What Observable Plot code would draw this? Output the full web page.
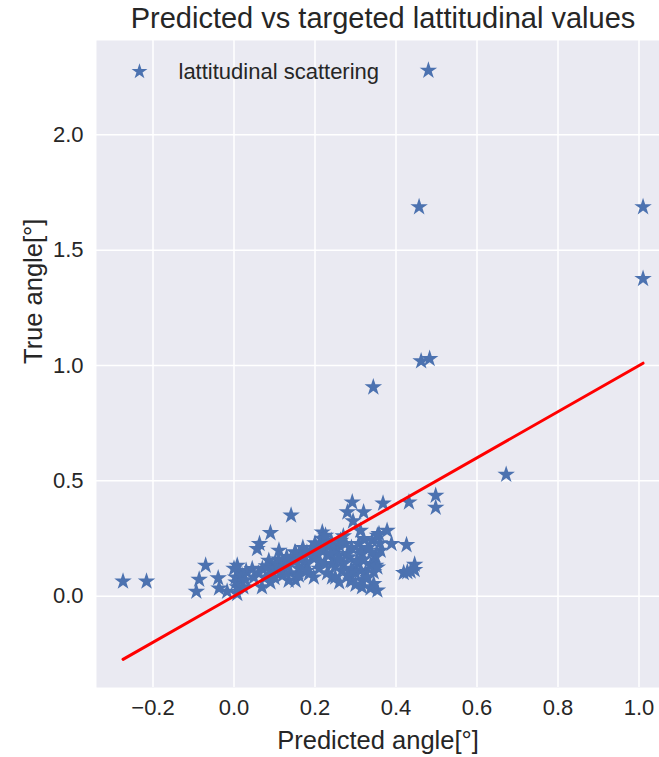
<!DOCTYPE html>
<html>
<head>
<meta charset="utf-8">
<script src="https://cdn.jsdelivr.net/npm/d3@7"></script>
<script src="https://cdn.jsdelivr.net/npm/@observablehq/plot@0.6"></script>
<style>
  html, body { margin: 0; padding: 0; background: #ffffff; }
  body { width: 659px; height: 757px; overflow: hidden; font-family: "Liberation Sans", Arial, sans-serif; }
  #title { position: relative; height: 40px; width: 659px; }
  #title span { position: absolute; left: 0; width: 766px; top: 1px; line-height: 34px; text-align: center; font-size: 29px; color: #262626; white-space: nowrap; }
  #chart svg { display: block; }
</style>
</head>
<body>
<div id="title"><span>Predicted vs targeted lattitudinal values</span></div>
<div id="chart"></div>
<script>
// Predicted angle (x) and true angle (y) for each star marker
const predicted = [
  0.480, 0.457, 1.010, 1.010, 0.462, 0.483, 0.344, 0.672,
  0.498, 0.498, 0.432, 0.426, 0.419, 0.436, 0.446, 0.446, 0.428,
  -0.274, -0.216, -0.093, -0.086, -0.070, -0.039, -0.037, -0.017,
  0.008, 0.008, 0.011, 0.004, 0.016, 0.008, 0.023, 0.000, 0.005, 0.020, 0.030, 0.028,
  0.045, 0.049, 0.057, 0.063, 0.090, 0.111, 0.141, 0.086, 0.152, 0.218, 0.218, 0.078,
  0.119, 0.135, 0.152, 0.185, 0.197, 0.172, 0.193, 0.069, 0.102, 0.123,
  0.06, 0.07, 0.08, 0.09, 0.10, 0.11, 0.12, 0.13, 0.14, 0.15, 0.16, 0.17, 0.18, 0.19,
  0.20, 0.21, 0.22, 0.23, 0.24, 0.20, 0.18, 0.16, 0.14, 0.12, 0.10, 0.09, 0.21, 0.23,
  0.22, 0.20, 0.17, 0.15, 0.13, 0.11, 0.16, 0.18, 0.21, 0.225, 0.245, 0.25, 0.26,
  0.292, 0.280, 0.320, 0.368, 0.294, 0.312, 0.378, 0.358, 0.389, 0.226, 0.341, 0.250,
  0.275, 0.308, 0.284, 0.316, 0.242, 0.308, 0.341, 0.267, 0.325, 0.242, 0.292, 0.316,
  0.345, 0.316, 0.337, 0.354, 0.350, 0.259,
  0.263, 0.320, 0.354, 0.238, 0.205, 0.280, 0.164, 0.312, 0.362, 0.312, 0.345, 0.304,
  0.337, 0.354, 0.250, 0.288,
  0.27, 0.29, 0.30, 0.28, 0.26, 0.33, 0.30, 0.32, 0.29, 0.27, 0.33, 0.35, 0.36, 0.34,
  0.23, 0.25, 0.24, 0.26
];
const trueAngle = [
  2.279, 1.687, 1.687, 1.376, 1.019, 1.029, 0.906, 0.527,
  0.436, 0.384, 0.407, 0.222, 0.101, 0.108, 0.137, 0.114, 0.105,
  0.064, 0.064, 0.020, 0.072, 0.133, 0.078, 0.034, 0.020,
  0.010, 0.133, 0.104, 0.082, 0.068, 0.039, 0.039, 0.120, 0.060, 0.090, 0.110, 0.070,
  0.118, 0.082, 0.205, 0.227, 0.274, 0.198, 0.350, 0.154, 0.190, 0.277, 0.248, 0.082,
  0.111, 0.068, 0.068, 0.097, 0.082, 0.147, 0.169, 0.039, 0.140, 0.125,
  0.10, 0.12, 0.13, 0.11, 0.12, 0.14, 0.15, 0.13, 0.16, 0.15, 0.18, 0.17, 0.19, 0.20,
  0.21, 0.22, 0.20, 0.22, 0.24, 0.17, 0.14, 0.12, 0.10, 0.09, 0.08, 0.06, 0.15, 0.18,
  0.25, 0.23, 0.21, 0.19, 0.17, 0.16, 0.09, 0.11, 0.12, 0.14, 0.16, 0.20, 0.22,
  0.407, 0.364, 0.364, 0.402, 0.325, 0.284, 0.284, 0.270, 0.227, 0.263, 0.241, 0.212,
  0.227, 0.227, 0.169, 0.183, 0.140, 0.140, 0.140, 0.111, 0.104, 0.082, 0.068, 0.068,
  0.104, 0.039, 0.034, 0.025, 0.133, 0.176,
  0.241, 0.248, 0.263, 0.183, 0.190, 0.183, 0.169, 0.198, 0.198, 0.111, 0.053, 0.154,
  0.133, 0.125, 0.082, 0.068,
  0.14, 0.12, 0.10, 0.09, 0.06, 0.08, 0.05, 0.16, 0.21, 0.26, 0.21, 0.17, 0.23, 0.19,
  0.10, 0.13, 0.23, 0.16
];
// Identity line endpoints (from min to max predicted)
const lineEnds = [-0.274, 1.010];
const xTicks = [-0.2, 0.0, 0.2, 0.4, 0.6, 0.8, 1.0];
const yTicks = [0.0, 0.5, 1.0, 1.5, 2.0];
const legendLabel = "lattitudinal scattering";
const xLabel = "Predicted angle[°]";
const yLabel = "True angle[°]";

const points = predicted.map((p, i) => ({p, t: trueAngle[i]}));
const ident = lineEnds.map(v => ({v}));
const fmt = d => (d < 0 ? "\u2212" : "") + Math.abs(d).toFixed(1);

const chart = Plot.plot({
  width: 659,
  height: 717,
  marginTop: 0,
  marginLeft: 96,
  marginRight: 0,
  marginBottom: 70,
  style: {fontFamily: "'Liberation Sans', Arial, sans-serif", fontSize: "22px", color: "#262626", background: "#ffffff", overflow: "visible"},
  x: {domain: [-0.3395, 1.0506]},
  y: {domain: [-0.396, 2.409]},
  marks: [
    Plot.frame({fill: "#EAEAF2", stroke: null}),
    Plot.gridX(xTicks, {stroke: "#ffffff", strokeOpacity: 1, strokeWidth: 1.5}),
    Plot.gridY(yTicks, {stroke: "#ffffff", strokeOpacity: 1, strokeWidth: 1.5}),
    Plot.axisX(xTicks, {tickSize: 0, tickPadding: 12, tickFormat: fmt, label: null, fontSize: 22, fill: "#262626"}),
    Plot.axisY(yTicks, {tickSize: 0, tickPadding: 13, tickFormat: fmt, label: null, fontSize: 22, fill: "#262626"}),
    Plot.text([xLabel], {frameAnchor: "bottom", dy: 53, lineAnchor: "middle", fontSize: 25.5, fill: "#262626"}),
    Plot.text([yLabel], {frameAnchor: "left", dx: -63, rotate: -90, lineAnchor: "middle", fontSize: 25.5, fill: "#262626"}),
    Plot.dot(points, {x: "p", y: "t", symbol: "star", r: 5.5, fill: "#4C72B0", stroke: null}),
    Plot.line(ident, {x: "v", y: "v", stroke: "#ff0000", strokeWidth: 3}),
    Plot.dot([legendLabel], {frameAnchor: "top-left", dx: 43, dy: 31, symbol: "star", r: 5, fill: "#4C72B0", stroke: null}),
    Plot.text([legendLabel], {frameAnchor: "top-left", dx: 82, dy: 31, textAnchor: "start", lineAnchor: "middle", fontSize: 22, fill: "#262626"})
  ]
});
document.getElementById("chart").appendChild(chart);
</script>
</body>
</html>
